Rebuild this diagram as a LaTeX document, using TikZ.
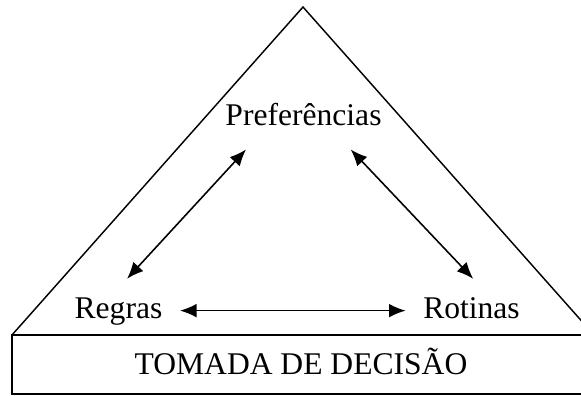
\documentclass[tikz,border=0pt]{standalone}
\usepackage{fontspec}
\setmainfont{Liberation Serif}
\usetikzlibrary{arrows.meta}

\tikzset{
  rotulo/.style={font=\fontsize{12}{14}\selectfont, anchor=base,
    text height=8.2pt, text depth=2.6pt, inner sep=6.5pt},
  liga/.style={{Latex[length=6.3pt,width=5.2pt]}-{Latex[length=6.3pt,width=5.2pt]}, line width=0.6pt}
}

\begin{document}
\begin{tikzpicture}[x=0.38pt,y=-0.38pt]
  \useasboundingbox (0,0) rectangle (581,396);
  \clip (0,0) rectangle (581,396);
  % Triangulo e caixa da base
  \draw[line width=0.55pt] (12,335) -- (303,7) -- (594,335);
  \draw[line width=0.75pt] (12,335) rectangle (600,394);
  % Textos
  \node[rotulo] (pref) at (303.5,125) {Preferências};
  \node[rotulo] (regras) at (118.5,318) {Regras};
  \node[rotulo] (rotinas) at (471.5,318) {Rotinas};
  \node[rotulo] (decisao) at (301,374) {TOMADA DE DECISÃO};
  % Setas duplas
  \draw[liga] (regras.east) -- (rotinas.west);
  \draw[liga] (regras.75) -- (pref.209);
  \draw[liga] (pref.326) -- (rotinas.87);
\end{tikzpicture}
\end{document}
